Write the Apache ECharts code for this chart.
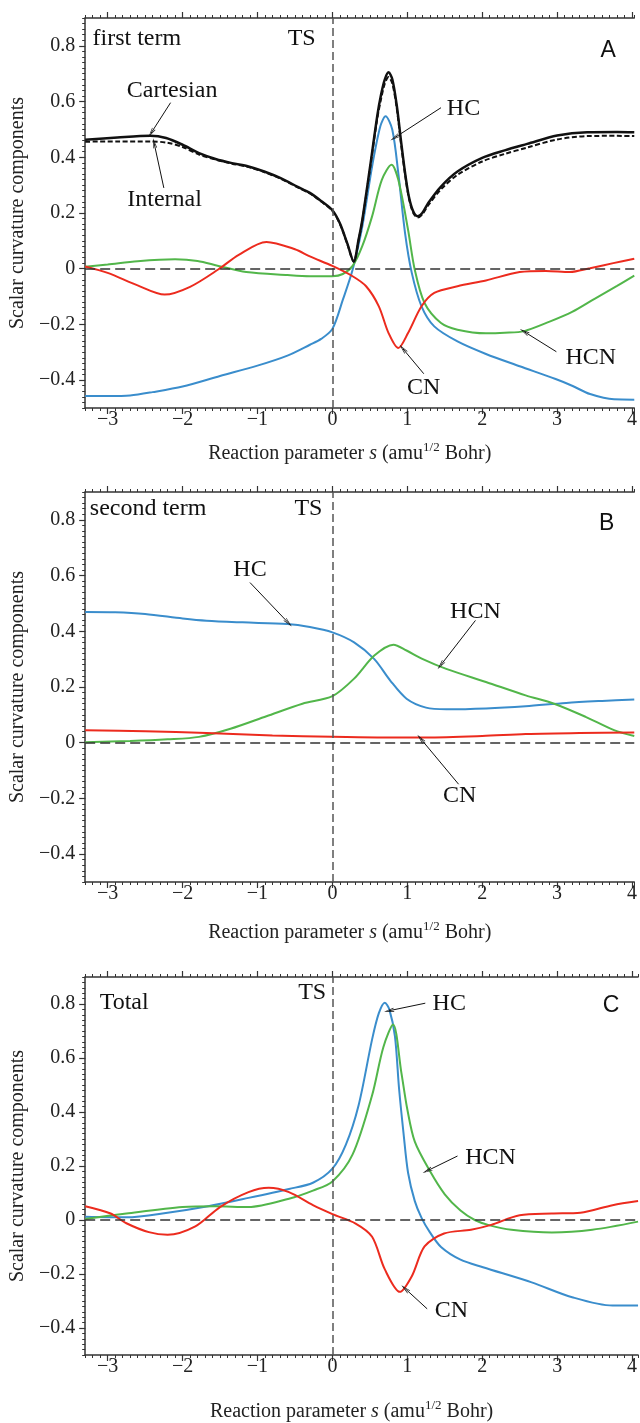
<!DOCTYPE html>
<html><head><meta charset="utf-8">
<script src="https://cdn.jsdelivr.net/npm/echarts@6/dist/echarts.min.js"></script>
<style>html,body{margin:0;padding:0;background:#fff}#c{width:640px;height:1423px}</style>
</head><body><div id="c"></div>
<script>
// ---------- data ----------
const xTicks = [-3, -2, -1, 0, 1, 2, 3, 4];
const yTicks = [-0.4, -0.2, 0, 0.2, 0.4, 0.6, 0.8];

// Panel A: first term
const aCartesian = [[-3.3,0.463],[-2.87,0.471],[-2.43,0.477],[-2.22,0.469],[-2.0,0.445],[-1.78,0.415],[-1.56,0.394],[-1.34,0.379],[-1.12,0.367],[-0.91,0.349],[-0.69,0.325],[-0.47,0.295],[-0.3,0.272],[-0.15,0.243],[0,0.21],[0.1,0.163],[0.2,0.09],[0.285,0.026],[0.35,0.105],[0.4,0.176],[0.5,0.36],[0.6,0.55],[0.65,0.625],[0.7,0.68],[0.75,0.705],[0.8,0.68],[0.86,0.585],[0.92,0.45],[0.97,0.345],[1.02,0.26],[1.08,0.205],[1.14,0.188],[1.2,0.2],[1.28,0.236],[1.45,0.295],[1.67,0.349],[2.0,0.398],[2.3,0.425],[2.6,0.448],[3.0,0.478],[3.4,0.49],[3.8,0.491],[4.03,0.49]];
const aInternal = [[-3.3,0.456],[-2.87,0.457],[-2.43,0.457],[-2.2,0.452],[-2.0,0.437],[-1.78,0.41],[-1.56,0.392],[-1.34,0.377],[-1.12,0.365],[-0.91,0.347],[-0.69,0.323],[-0.47,0.293],[-0.3,0.27],[-0.15,0.241],[0,0.208],[0.1,0.161],[0.2,0.088],[0.285,0.025],[0.35,0.102],[0.4,0.172],[0.5,0.355],[0.6,0.54],[0.65,0.61],[0.7,0.665],[0.75,0.688],[0.8,0.665],[0.86,0.575],[0.92,0.44],[0.97,0.338],[1.02,0.255],[1.08,0.2],[1.14,0.184],[1.2,0.195],[1.28,0.228],[1.45,0.285],[1.67,0.337],[2.0,0.385],[2.3,0.412],[2.6,0.435],[3.0,0.464],[3.4,0.476],[3.8,0.477],[4.03,0.476]];
const aHC = [[-3.3,-0.457],[-3.0,-0.457],[-2.7,-0.455],[-2.4,-0.443],[-2.0,-0.423],[-1.5,-0.385],[-1.0,-0.348],[-0.6,-0.312],[-0.3,-0.273],[-0.15,-0.252],[0,-0.216],[0.14,-0.111],[0.27,-0.004],[0.4,0.152],[0.53,0.367],[0.64,0.511],[0.71,0.547],[0.8,0.499],[0.88,0.343],[0.97,0.128],[1.06,-0.015],[1.19,-0.135],[1.36,-0.207],[1.67,-0.261],[2.05,-0.306],[2.5,-0.35],[2.98,-0.396],[3.2,-0.42],[3.44,-0.45],[3.76,-0.469],[4.03,-0.47]];
const aHCN = [[-3.3,0.007],[-3.0,0.015],[-2.6,0.027],[-2.1,0.034],[-1.8,0.028],[-1.52,0.01],[-1.15,-0.012],[-0.6,-0.023],[-0.3,-0.027],[0,-0.027],[0.14,-0.019],[0.27,0.01],[0.4,0.082],[0.53,0.188],[0.66,0.319],[0.79,0.373],[0.88,0.319],[1.01,0.14],[1.1,-0.004],[1.23,-0.123],[1.45,-0.195],[1.67,-0.219],[2.05,-0.232],[2.3,-0.23],[2.56,-0.224],[2.9,-0.19],[3.2,-0.155],[3.5,-0.108],[3.8,-0.062],[4.03,-0.025]];
const aCN = [[-3.3,0.008],[-3.0,-0.015],[-2.6,-0.06],[-2.24,-0.093],[-1.9,-0.065],[-1.52,-0.002],[-1.25,0.05],[-0.88,0.096],[-0.5,0.07],[-0.3,0.044],[0,0.01],[0.27,-0.027],[0.45,-0.063],[0.62,-0.135],[0.75,-0.231],[0.88,-0.285],[1.01,-0.231],[1.19,-0.135],[1.36,-0.087],[1.67,-0.063],[2.05,-0.042],[2.5,-0.012],[2.85,-0.008],[3.17,-0.012],[3.44,0.002],[3.75,0.02],[4.03,0.036]];

// Panel B: second term
const bHC = [[-3.3,0.469],[-2.9,0.468],[-2.5,0.462],[-2.0,0.446],[-1.68,0.438],[-1.2,0.432],[-0.6,0.426],[-0.3,0.415],[0,0.396],[0.29,0.36],[0.56,0.30],[0.77,0.224],[0.99,0.158],[1.25,0.126],[1.52,0.12],[2.05,0.123],[2.58,0.131],[3.12,0.143],[3.6,0.15],[4.03,0.155]];
const bHCN = [[-3.3,0.002],[-2.7,0.006],[-2.2,0.012],[-1.78,0.021],[-1.36,0.05],[-0.88,0.095],[-0.4,0.14],[0,0.167],[0.29,0.23],[0.56,0.313],[0.815,0.352],[0.99,0.331],[1.2,0.301],[1.52,0.265],[2.05,0.218],[2.58,0.17],[2.96,0.14],[3.38,0.093],[3.76,0.045],[4.03,0.024]];
const bCN = [[-3.3,0.045],[-2.5,0.041],[-1.68,0.035],[-0.8,0.026],[0,0.021],[0.6,0.019],[1.25,0.019],[2.0,0.024],[2.58,0.031],[3.3,0.035],[4.03,0.037]];

// Panel C: total
const cHC = [[-3.3,0.012],[-2.75,0.01],[-2.2,0.027],[-1.66,0.051],[-1.12,0.082],[-0.58,0.115],[-0.26,0.138],[0,0.19],[0.18,0.279],[0.35,0.425],[0.53,0.669],[0.62,0.766],[0.70,0.805],[0.76,0.78],[0.835,0.68],[0.89,0.486],[0.95,0.32],[1.01,0.175],[1.1,0.07],[1.19,0.008],[1.3,-0.045],[1.45,-0.1],[1.71,-0.147],[2.01,-0.175],[2.66,-0.231],[3.2,-0.286],[3.74,-0.317],[4.08,-0.317]];
const cHCN = [[-3.3,0.004],[-2.75,0.024],[-2.0,0.048],[-1.56,0.051],[-1.12,0.048],[-0.58,0.079],[-0.26,0.109],[0,0.143],[0.27,0.243],[0.53,0.462],[0.68,0.64],[0.81,0.724],[0.92,0.547],[1.0,0.41],[1.1,0.29],[1.3,0.182],[1.5,0.095],[1.71,0.035],[1.9,0],[2.1,-0.02],[2.39,-0.036],[2.93,-0.046],[3.47,-0.036],[4.08,-0.006]];
const cCN = [[-3.3,0.051],[-2.96,0.024],[-2.75,-0.012],[-2.45,-0.045],[-2.2,-0.055],[-1.83,-0.024],[-1.5,0.048],[-1.12,0.103],[-0.85,0.119],[-0.58,0.103],[-0.26,0.055],[0,0.022],[0.31,-0.013],[0.53,-0.062],[0.70,-0.183],[0.9,-0.266],[1.06,-0.208],[1.23,-0.098],[1.49,-0.05],[1.85,-0.036],[2.12,-0.018],[2.5,0.018],[2.93,0.024],[3.31,0.027],[3.74,0.055],[4.08,0.07]];

// ---------- annotations (data coordinates) ----------
const annA = {
  texts: [['first term',[-2.61,0.826]],['TS',[-0.41,0.827]],['Cartesian',[-2.14,0.639]],['Internal',[-2.24,0.246]],['HC',[1.75,0.574]],['CN',[1.22,-0.427]],['HCN',[3.45,-0.319]]],
  letter: ['A',[3.68,0.781]],
  arrows: [[[-2.16,0.596],[-2.42,0.487]],[[-2.25,0.29],[-2.38,0.451]],[[1.45,0.578],[0.83,0.47]],[[1.22,-0.377],[0.94,-0.287]],[[2.99,-0.298],[2.56,-0.226]]]
};
const annB = {
  texts: [['second term',[-2.46,0.840]],['TS',[-0.32,0.841]],['HC',[-1.10,0.622]],['HCN',[1.91,0.47]],['CN',[1.70,-0.192]]],
  letter: ['B',[3.66,0.786]],
  arrows: [[[-1.10,0.575],[-0.587,0.43]],[[1.91,0.439],[1.445,0.278]],[[1.685,-0.149],[1.177,0.015]]]
};
const annC = {
  texts: [['Total',[-2.78,0.806]],['TS',[-0.27,0.84]],['HC',[1.56,0.80]],['HCN',[2.11,0.23]],['CN',[1.59,-0.336]]],
  letter: ['C',[3.72,0.793]],
  arrows: [[[1.24,0.803],[0.755,0.775]],[[1.67,0.237],[1.265,0.182]],[[1.265,-0.329],[0.97,-0.254]]]
};

// ---------- styles / layout ----------
const SERIF = '"Liberation Serif","Times New Roman",serif';
const SANS = '"Liberation Sans",Arial,sans-serif';
const BLUE = '#3a8dcc', GREEN = '#52b64a', RED = '#ec2b1e', BLACK = '#111';
const AXC = '#333';
const ARROW = 'path://M0,10 L5,0 L10,10 L8.4,10 L5,3.2 L1.6,10 Z';
const panels = [
  {top:18, height:390, xmax:4.03, nameGap:32, ann:annA,
   series:[[aHC,BLUE],[aHCN,GREEN],[aCN,RED],[aCartesian,BLACK,'solid',2.5],[aInternal,BLACK,[5,2.5],2]]},
  {top:492, height:390, xmax:4.03, nameGap:37, ann:annB,
   series:[[bHC,BLUE],[bHCN,GREEN],[bCN,RED]]},
  {top:977, height:383, xmax:4.08, nameGap:43, ann:annC,
   series:[[cHC,BLUE],[cHCN,GREEN],[cCN,RED]]}
];
const fmt = v => v === 0 ? '0' : (v < 0 ? '\u2212' : '') + String(Math.abs(+v.toFixed(2)));

const option = {animation:false, backgroundColor:'#fff', grid:[], xAxis:[], yAxis:[], series:[]};

panels.forEach((p, i) => {
  option.grid.push({left:80, right:0, top:p.top, height:p.height, containLabel:false});
  const xb = {gridIndex:i, type:'value', min:-3.3, max:p.xmax, interval:0.1, splitLine:{show:false}, axisPointer:{show:false}};
  option.xAxis.push(
    Object.assign({}, xb, {position:'bottom',
      axisLine:{show:true, onZero:false, lineStyle:{color:AXC, width:1.5}},
      axisTick:{show:true, length:3, lineStyle:{color:AXC, width:1}},
      axisLabel:{show:true, customValues:xTicks, formatter:fmt, fontFamily:SERIF, fontSize:20, color:'#222', margin:2},
      name:'{a|Reaction parameter }{i|s}{a| (amu}{s|1/2}{a| Bohr)}', nameLocation:'middle', nameGap:p.nameGap,
      nameTextStyle:{padding:[0,20,0,0], rich:{
        a:{fontFamily:SERIF, fontSize:20, color:'#222', lineHeight:24, verticalAlign:'bottom'},
        i:{fontFamily:SERIF, fontSize:20, fontStyle:'italic', color:'#222', lineHeight:24, verticalAlign:'bottom'},
        s:{fontFamily:SERIF, fontSize:13, color:'#222', lineHeight:14, padding:[0,0,10,0], verticalAlign:'bottom'}}}}),
    Object.assign({}, xb, {position:'bottom', axisLine:{show:false, onZero:false},
      axisTick:{show:true, customValues:xTicks, length:6, lineStyle:{color:AXC, width:1.2}}, axisLabel:{show:false}}),
    Object.assign({}, xb, {position:'top', axisLine:{show:true, onZero:false, lineStyle:{color:AXC, width:1.5}},
      axisTick:{show:true, length:3, lineStyle:{color:AXC, width:1}}, axisLabel:{show:false}}),
    Object.assign({}, xb, {position:'top', axisLine:{show:false, onZero:false},
      axisTick:{show:true, customValues:xTicks, length:6, lineStyle:{color:AXC, width:1.2}}, axisLabel:{show:false}})
  );
  const yb = {gridIndex:i, type:'value', min:-0.5, max:0.9, interval:0.02, position:'left', splitLine:{show:false}};
  option.yAxis.push(
    Object.assign({}, yb, {axisLine:{show:true, onZero:false, lineStyle:{color:AXC, width:1.5}},
      axisTick:{show:true, length:3, lineStyle:{color:AXC, width:1}},
      axisLabel:{show:true, customValues:yTicks, formatter:fmt, fontFamily:SERIF, fontSize:20, color:'#222', margin:10},
      name:'Scalar curvature components', nameLocation:'middle', nameGap:48,
      nameTextStyle:{fontFamily:SERIF, fontSize:20, color:'#222'}}),
    Object.assign({}, yb, {axisLine:{show:false, onZero:false},
      axisTick:{show:true, customValues:yTicks, length:6, lineStyle:{color:AXC, width:1.2}}, axisLabel:{show:false}})
  );
  const xi = 4*i, yi = 2*i;
  // reference dashed lines
  option.series.push({type:'line', xAxisIndex:xi, yAxisIndex:yi, data:[], silent:true,
    markLine:{silent:true, symbol:'none', animation:false, label:{show:false}, emphasis:{disabled:true},
      data:[{xAxis:0, lineStyle:{type:[8,4], color:'#555', width:1.5}},
            {yAxis:0, lineStyle:{type:[10,5], color:'#333', width:1.5}}]}});
  p.series.forEach(s => {
    option.series.push({type:'line', xAxisIndex:xi, yAxisIndex:yi, data:s[0], showSymbol:false, smooth:0.3,
      silent:true, lineStyle:{color:s[1], width:s[3]||2, type:s[2]||'solid'}, itemStyle:{color:s[1]}});
  });
  // annotations: arrows + labels
  option.series.push({type:'line', xAxisIndex:xi, yAxisIndex:yi, data:[], silent:true,
    markLine:{silent:true, symbol:['none', ARROW], symbolSize:[4, 10], animation:false, label:{show:false},
      emphasis:{disabled:true}, lineStyle:{type:'solid', color:'#111', width:1},
      data:p.ann.arrows.map(a => [{coord:a[0]}, {coord:a[1]}])},
    markPoint:{silent:true, symbol:'circle', symbolSize:0, animation:false,
      label:{show:true, position:'inside', formatter:q => q.name, fontFamily:SERIF, fontSize:24, color:'#111'},
      data:p.ann.texts.map(t => ({name:t[0], coord:t[1]})).concat([
        {name:p.ann.letter[0], coord:p.ann.letter[1], label:{fontFamily:SANS, fontSize:23, color:'#111'}}])}});
});

const chart = echarts.init(document.getElementById('c'), null, {renderer:'canvas'});
chart.setOption(option);
</script>
</body></html>
